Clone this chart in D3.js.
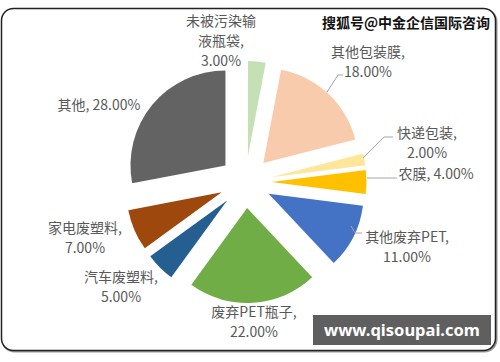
<!DOCTYPE html>
<html>
<head>
<meta charset="utf-8">
<script src="https://cdn.jsdelivr.net/npm/d3@7.9.0/dist/d3.min.js"></script>
<style>
  body { margin: 0; background: #fff; }
  svg { display: block; }
  text { font-family: "Noto Sans CJK SC", "Noto Sans", sans-serif; }
</style>
</head>
<body>
<svg id="chart" width="500" height="362"></svg>
<script>
const categories = ['未被污染输液瓶袋', '其他包装膜', '快递包装', '农膜', '其他废弃PET', '废弃PET瓶子', '汽车废塑料', '家电废塑料', '其他'];
const shares = [3, 18, 2, 4, 11, 22, 5, 7, 28];
const colors = ['#c5e0b4', '#f8cbad', '#ffe699', '#ffc000', '#4472c4', '#70ad47', '#255e91', '#9e480e', '#636363'];

// label text lines + where Excel put them (centre x, first line centre y)
const labelLines = [
  ['未被污染输', '液瓶袋,', '3.00%'],
  ['其他包装膜,', '18.00%'],
  ['快递包装,', '2.00%'],
  ['农膜, 4.00%'],
  ['其他废弃PET,', '11.00%'],
  ['废弃PET瓶子,', '22.00%'],
  ['汽车废塑料,', '5.00%'],
  ['家电废塑料,', '7.00%'],
  ['其他, 28.00%']
];
const labelPos = [[221, 21], [368, 52], [427, 133], [436, 174], [407, 237], [254, 312], [121, 277], [85, 228], [99, 105]];
// leader lines (only some labels have them)
const leaders = {
  1: [[343, 75], [338, 75], [327, 92]],
  2: [[393, 137], [384, 137], [363, 158]],
  3: [[397, 178], [367, 178]],
  4: [[351, 226], [355, 233], [362, 233]]
};

const svg = d3.select('#chart');
const cx = 245.5, cy = 182, R = 95, explode = 26;

// frame with a little shadow
svg.append('rect')
  .attr('x', 2.5).attr('y', 9.5).attr('width', 494).attr('height', 342)
  .attr('rx', 12).attr('fill', 'none').attr('stroke', '#9a9a9a').attr('stroke-width', 2);
svg.append('rect')
  .attr('x', 1.5).attr('y', 8.5).attr('width', 494).attr('height', 342)
  .attr('rx', 12).attr('fill', '#fff').attr('stroke', '#222').attr('stroke-width', 1.5);

const data = categories.map((c, i) => ({ name: c, value: shares[i], color: colors[i], idx: i }));
const pie = d3.pie().sort(null).value(d => d.value);
const arc = d3.arc().innerRadius(0).outerRadius(R);

const g = svg.append('g').attr('transform', `translate(${cx},${cy})`);
g.selectAll('path')
  .data(pie(data))
  .join('path')
  .attr('d', arc)
  .attr('fill', d => d.data.color)
  .attr('transform', d => {
    const mid = (d.startAngle + d.endAngle) / 2;
    return `translate(${explode * Math.sin(mid)},${-explode * Math.cos(mid)})`;
  });

const line = d3.line();
Object.entries(leaders).forEach(([k, pts]) => {
  svg.append('path')
    .attr('d', line(pts))
    .attr('fill', 'none')
    .attr('stroke', '#a6a6a6')
    .attr('stroke-width', 1);
});

labelLines.forEach((lines, i) => {
  const [x, y] = labelPos[i];
  const t = svg.append('text')
    .attr('text-anchor', 'middle')
    .attr('font-size', 14)
    .attr('fill', '#595959');
  lines.forEach((s, j) => {
    t.append('tspan').attr('x', x).attr('y', y + 5 + j * 20).text(s);
  });
});

// watermark
svg.append('text')
  .attr('x', 406).attr('y', 28)
  .attr('text-anchor', 'middle')
  .attr('font-size', 14).attr('font-weight', 'bold')
  .attr('fill', '#111')
  .text('搜狐号@中金企信国际咨询');

svg.append('rect')
  .attr('x', 313).attr('y', 315).attr('width', 178).attr('height', 30)
  .attr('fill', '#5f5f5f');
svg.append('text')
  .attr('x', 402).attr('y', 336)
  .attr('text-anchor', 'middle')
  .attr('font-size', 16.5).attr('font-weight', 'bold')
  .attr('fill', '#fff')
  .style('font-family', '"Noto Sans", sans-serif')
  .text('www.qisoupai.com');
</script>
</body>
</html>
